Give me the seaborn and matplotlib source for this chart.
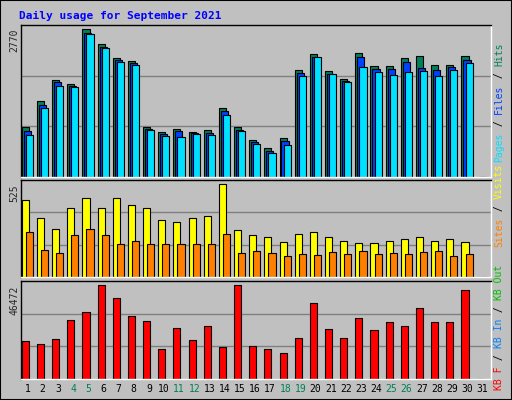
import matplotlib
matplotlib.use("Agg")
import matplotlib.pyplot as plt
import seaborn as sns
import numpy as np

sns.set_style("white")
plt.rcParams['font.family'] = ['DejaVu Sans Mono']

days = list(range(1, 32))
weekends = [4, 5, 11, 12, 18, 19, 25, 26]
hits = [919,1382,1759,1686,2691,2417,2161,2107,919,828,883,828,864,1266,919,682,536,718,1942,2234,1924,1778,2253,2015,2015,2161,2198,2033,2033,2198,0]
files = [846,1321,1723,1650,2618,2362,2125,2070,883,791,846,810,810,1211,864,645,481,664,1887,2180,1869,1741,2180,1960,1960,2088,1979,1942,1997,2125,0]
pages = [773,1266,1650,1632,2600,2344,2088,2033,864,755,737,791,773,1138,846,609,444,591,1833,2180,1869,1723,1997,1906,1851,1906,1924,1833,1942,2070,0]
visits = [415,322,262,371,425,371,425,387,371,311,300,322,328,501,257,230,219,192,235,241,219,197,186,186,197,203,214,197,203,192,0]
sites = [241,148,132,230,262,230,176,197,176,181,181,176,181,235,132,143,132,116,127,121,138,127,143,127,132,127,138,143,116,127,0]
kbytes = [17840,16430,18780,28170,31930,44600,38500,30050,27700,14090,24410,18310,25350,15020,44600,15490,14090,12210,19250,36150,23940,19250,29110,23000,27230,25350,33800,27230,27230,42260,0]
max_hits, max_visits, max_kb = 2770, 525, 46472

W, H = 512, 400
fig = plt.figure(figsize=(W/100, H/100), dpi=100)
fig.patch.set_facecolor('#C0C0C0')
fig.patches.append(plt.Rectangle((0, 0), 1, 1, transform=fig.transFigure, fill=False, edgecolor='black', lw=1.5))
fig.text(19/W, 1-16/H, "Daily usage for September 2021", color='#0000FF', fontsize=8, fontweight='bold', va='center')

def add(y0, y1):
    ax = fig.add_axes([21/W, 1-y1/H, 470/W, (y1-y0)/H])
    ax.set_facecolor('#C0C0C0')
    ax.set_xlim(0.5, 31.5)
    ax.set_xticks([]); ax.set_yticks([])
    for s in ax.spines.values():
        s.set_color('black'); s.set_linewidth(1)
    ax.spines['right'].set_color('white'); ax.spines['bottom'].set_color('white')
    return ax

x = np.array(days)
ax1 = add(25, 177)
ax1.set_ylim(0, max_hits)
for g in (max_hits/3, 2*max_hits/3):
    ax1.axhline(g, color='#808080', lw=1, zorder=0)
for off, vals, c in [(0, hits, '#00805A'), (0.13, files, '#0040FF'), (0.27, pages, '#00E0FF')]:
    ax1.bar(x - 0.45 + off, vals, width=0.47, align='edge', color=c, edgecolor='black', lw=0.8)

ax2 = add(180, 277)
ax2.set_ylim(0, max_visits)
for g in (max_visits/3, 2*max_visits/3):
    ax2.axhline(g, color='#808080', lw=1, zorder=0)
ax2.bar(x - 0.45, visits, width=0.47, align='edge', color='#FFFF00', edgecolor='black', lw=0.8)
ax2.bar(x - 0.18, sites, width=0.47, align='edge', color='#FF8000', edgecolor='black', lw=0.8)

ax3 = add(281, 379)
ax3.set_ylim(0, max_kb)
for g in (max_kb/3, 2*max_kb/3):
    ax3.axhline(g, color='#808080', lw=1, zorder=0)
ax3.bar(x - 0.45, kbytes, width=0.47, align='edge', color='#FF0000', edgecolor='black', lw=0.8)

for d in days:
    fig.text((21 + (d - 0.5) * 470/31 - 1)/W, 1-389/H, str(d), ha='center', va='center', fontsize=7,
             color='#00805A' if d in weekends else 'black')

fig.text(14/W, 1-40/H, str(max_hits), rotation=90, ha='center', va='center', fontsize=7)
fig.text(14/W, 1-193/H, str(max_visits), rotation=90, ha='center', va='center', fontsize=7)
fig.text(14/W, 1-300/H, str(max_kb), rotation=90, ha='center', va='center', fontsize=7)

def vlabel(parts, ybottom):
    y = ybottom
    for txt, c in parts:
        t = fig.text(499/W, 1-y/H, txt, rotation=90, ha='center', va='bottom', fontsize=7, color=c)
        y -= len(txt) * 6.0
vlabel([("Pages", '#00E0FF'), (" / ", 'black'), ("Files", '#0040FF'), (" / ", 'black'), ("Hits", '#00805A')], 162)
vlabel([("Sites", '#FF8000'), (" / ", 'black'), ("Visits", '#FFFF00')], 247)
vlabel([("KB F", '#FF0000'), (" / ", 'black'), ("KB In", '#0080FF'), (" / ", 'black'), ("KB Out", '#00C000')], 390)

fig.savefig("out.png", dpi=100, facecolor=fig.get_facecolor())
